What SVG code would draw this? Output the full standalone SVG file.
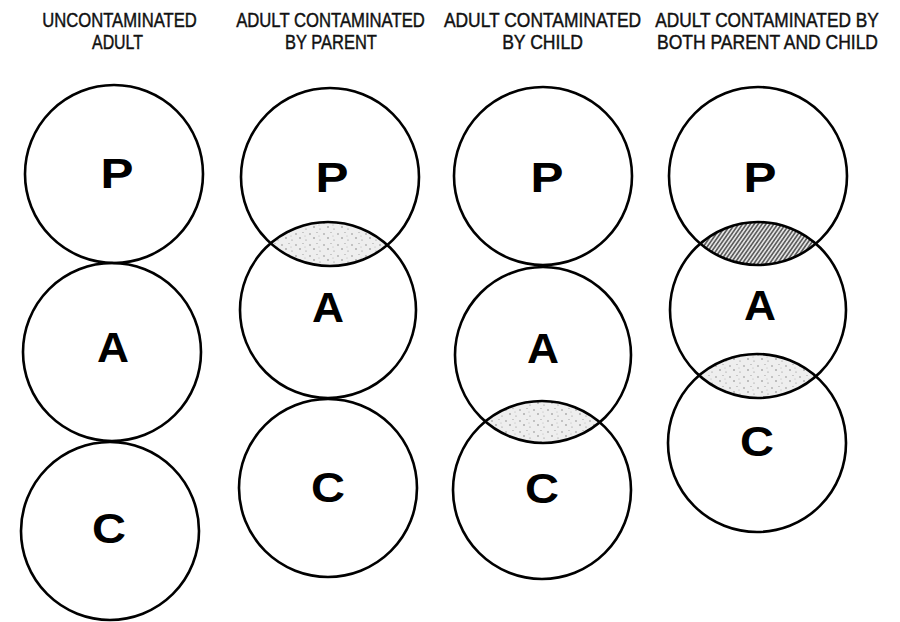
<svg xmlns="http://www.w3.org/2000/svg" width="900" height="622" viewBox="0 0 900 622">
<style>
.ring{fill:none;stroke:#000;stroke-width:2.6}
.lbl{font-family:"Liberation Sans",Arial,sans-serif;font-size:20px;fill:#111;stroke:#111;stroke-width:0.45;text-anchor:middle}
.let{font-family:"Liberation Sans",Arial,sans-serif;font-weight:bold;font-size:42px;fill:#000;text-anchor:middle}
</style>
<defs>
<pattern id="stipple" width="14" height="11" patternUnits="userSpaceOnUse">
<rect width="14" height="11" fill="#eeeeee"/>
<circle cx="2" cy="3" r="0.7" fill="#777"/>
<circle cx="9" cy="1.5" r="0.6" fill="#999"/>
<circle cx="6" cy="7" r="0.7" fill="#666"/>
<circle cx="12" cy="9" r="0.6" fill="#888"/>
<circle cx="11" cy="5" r="0.5" fill="#aaa"/>
</pattern>
<pattern id="hatch" width="3.2" height="10" patternUnits="userSpaceOnUse" patternTransform="rotate(35)">
<rect width="3.2" height="10" fill="#e2e2e2"/>
<line x1="0.8" y1="0" x2="0.8" y2="10" stroke="#222" stroke-width="1.1"/>
</pattern>
<clipPath id="c2p"><circle cx="330" cy="177" r="89"/></clipPath>
<clipPath id="c3a"><circle cx="543" cy="355" r="88"/></clipPath>
<clipPath id="c4p"><circle cx="758" cy="176" r="89"/></clipPath>
<clipPath id="c4a"><circle cx="758" cy="310" r="88"/></clipPath>
</defs>
<rect width="900" height="622" fill="#fff"/>

<g id="labels">
<text class="lbl" transform="translate(119.5 27) scale(0.85 1)" textLength="182" lengthAdjust="spacingAndGlyphs">UNCONTAMINATED</text>
<text class="lbl" transform="translate(117.5 49) scale(0.85 1)" textLength="60" lengthAdjust="spacingAndGlyphs">ADULT</text>
<text class="lbl" transform="translate(330.5 27) scale(0.85 1)" textLength="222" lengthAdjust="spacingAndGlyphs">ADULT CONTAMINATED</text>
<text class="lbl" transform="translate(331 49) scale(0.85 1)" textLength="108" lengthAdjust="spacingAndGlyphs">BY PARENT</text>
<text class="lbl" transform="translate(542.5 27) scale(0.85 1)" textLength="232" lengthAdjust="spacingAndGlyphs">ADULT CONTAMINATED</text>
<text class="lbl" transform="translate(542.5 49) scale(0.85 1)" textLength="95" lengthAdjust="spacingAndGlyphs">BY CHILD</text>
<text class="lbl" transform="translate(767 27) scale(0.85 1)" textLength="263" lengthAdjust="spacingAndGlyphs">ADULT CONTAMINATED BY</text>
<text class="lbl" transform="translate(767.5 49) scale(0.85 1)" textLength="260" lengthAdjust="spacingAndGlyphs">BOTH PARENT AND CHILD</text>
</g>

<g id="shading">
<circle cx="328" cy="310" r="88" clip-path="url(#c2p)" fill="url(#stipple)"/>
<circle cx="542" cy="490" r="89" clip-path="url(#c3a)" fill="url(#stipple)"/>
<circle cx="758" cy="310" r="88" clip-path="url(#c4p)" fill="url(#hatch)"/>
<circle cx="757" cy="443" r="89" clip-path="url(#c4a)" fill="url(#stipple)"/>
</g>

<g id="col1">
<g id="col1-P"><circle class="ring" cx="114" cy="174" r="89"/><text class="let" x="117" y="188" textLength="33" lengthAdjust="spacingAndGlyphs">P</text></g>
<g id="col1-A"><circle class="ring" cx="112" cy="352" r="89"/><text class="let" x="113" y="362" textLength="32" lengthAdjust="spacingAndGlyphs">A</text></g>
<g id="col1-C"><circle class="ring" cx="110" cy="531" r="89"/><text class="let" x="109" y="543" textLength="34" lengthAdjust="spacingAndGlyphs">C</text></g>
</g>
<g id="col2">
<g id="col2-P"><circle class="ring" cx="330" cy="177" r="89"/><text class="let" x="332" y="192" textLength="33" lengthAdjust="spacingAndGlyphs">P</text></g>
<g id="col2-A"><circle class="ring" cx="328" cy="310" r="88"/><text class="let" x="328" y="322" textLength="32" lengthAdjust="spacingAndGlyphs">A</text></g>
<g id="col2-C"><circle class="ring" cx="328" cy="488" r="89"/><text class="let" x="328" y="502" textLength="34" lengthAdjust="spacingAndGlyphs">C</text></g>
</g>
<g id="col3">
<g id="col3-P"><circle class="ring" cx="543" cy="176" r="89"/><text class="let" x="547" y="192" textLength="33" lengthAdjust="spacingAndGlyphs">P</text></g>
<g id="col3-A"><circle class="ring" cx="543" cy="355" r="88"/><text class="let" x="543" y="363" textLength="32" lengthAdjust="spacingAndGlyphs">A</text></g>
<g id="col3-C"><circle class="ring" cx="542" cy="490" r="89"/><text class="let" x="542" y="503" textLength="34" lengthAdjust="spacingAndGlyphs">C</text></g>
</g>
<g id="col4">
<g id="col4-P"><circle class="ring" cx="758" cy="176" r="89"/><text class="let" x="760" y="192" textLength="33" lengthAdjust="spacingAndGlyphs">P</text></g>
<g id="col4-A"><circle class="ring" cx="758" cy="310" r="88"/><text class="let" x="760" y="320" textLength="32" lengthAdjust="spacingAndGlyphs">A</text></g>
<g id="col4-C"><circle class="ring" cx="757" cy="443" r="89"/><text class="let" x="757" y="456" textLength="34" lengthAdjust="spacingAndGlyphs">C</text></g>
</g>
</svg>
